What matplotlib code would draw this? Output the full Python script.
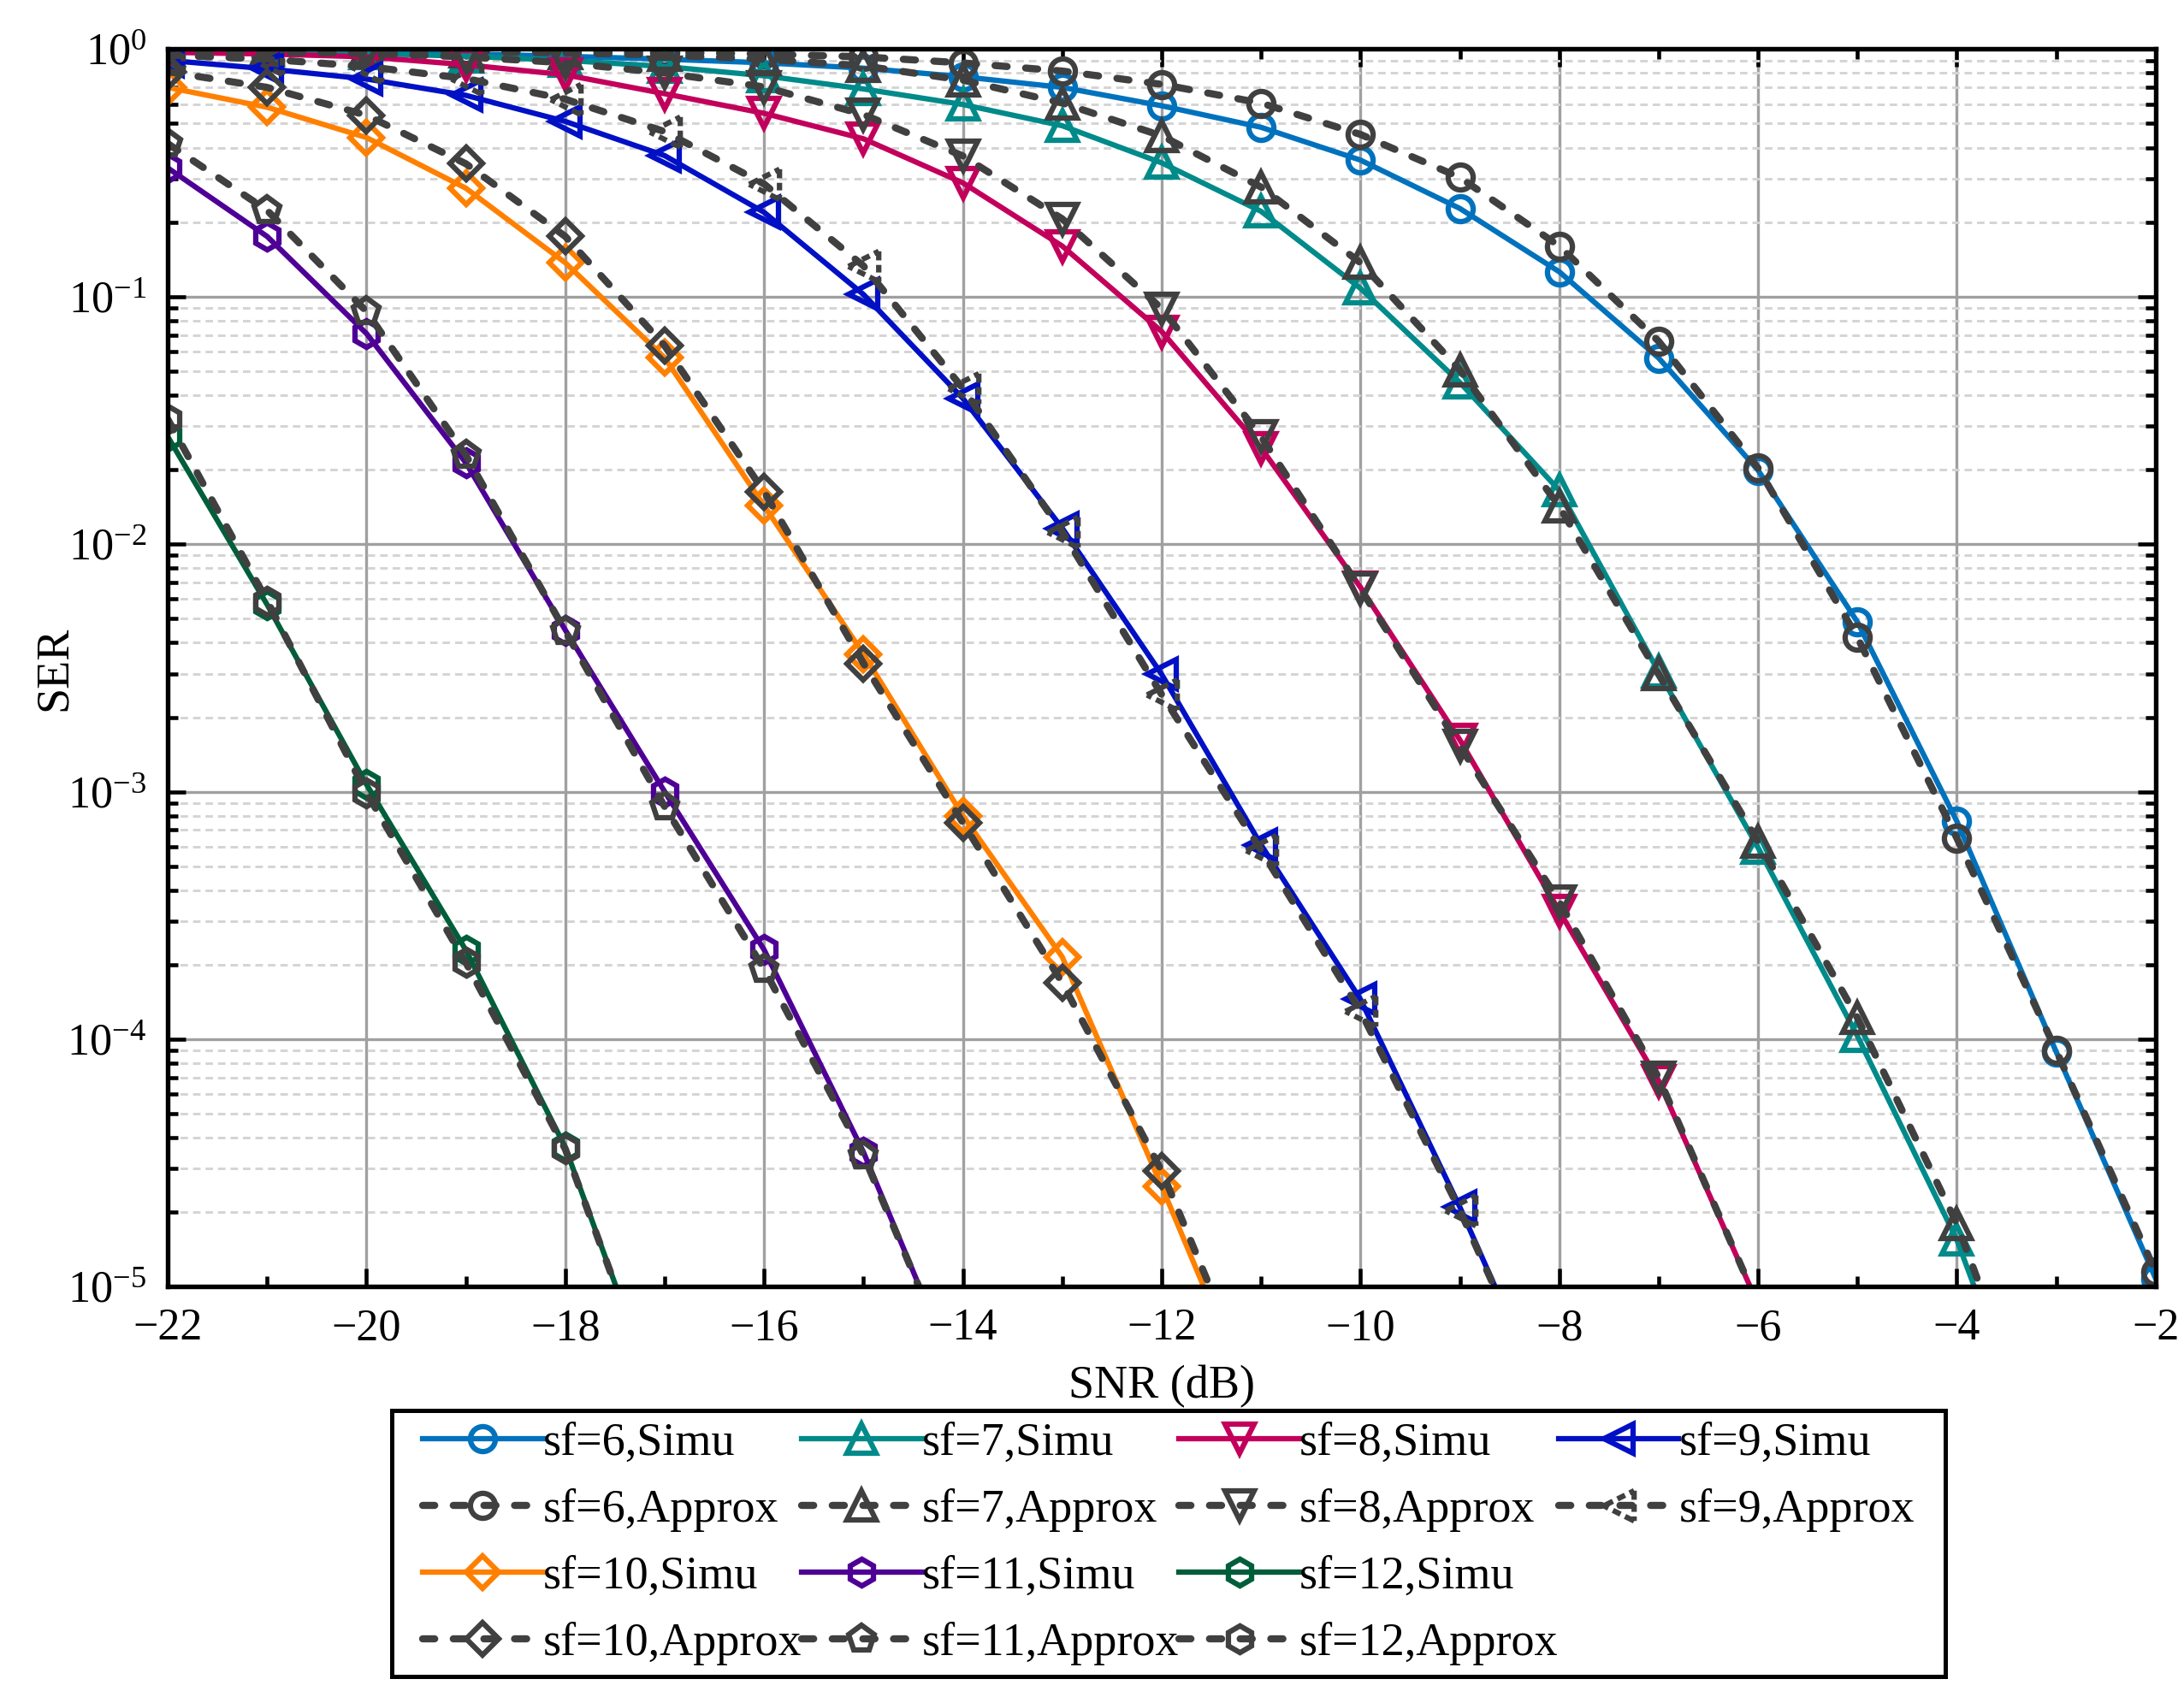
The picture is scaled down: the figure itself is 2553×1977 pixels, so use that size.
import numpy as np
import matplotlib
matplotlib.use("Agg")
import matplotlib.pyplot as plt
from matplotlib.lines import Line2D
from matplotlib.path import Path
from matplotlib.ticker import LogLocator, MultipleLocator, NullFormatter

plt.rcParams['font.family'] = ['Liberation Serif', 'DejaVu Serif']
plt.rcParams['mathtext.fontset'] = 'stix'
plt.rcParams['axes.unicode_minus'] = True

# SNR in dB
snr = [-22, -21, -20, -19, -18, -17, -16, -15, -14, -13, -12,
       -11, -10, -9, -8, -7, -6, -5, -4, -3, -2]

# SER values, each list starts at -22 dB
sf6_simu = [0.985, 0.98, 0.97, 0.955, 0.935, 0.91, 0.88, 0.837, 0.773, 0.70, 0.59,
            0.483, 0.356, 0.227, 0.126, 0.0565, 0.0199, 4.85e-3, 7.6e-4, 8.9e-5, 1.08e-5]
sf6_approx = [0.998, 0.996, 0.993, 0.99, 0.98, 0.97, 0.955, 0.93, 0.879, 0.815, 0.72,
              0.605, 0.452, 0.303, 0.160, 0.066, 0.0203, 4.2e-3, 6.5e-4, 9.0e-5, 1.15e-5]
sf7_simu = [0.985, 0.975, 0.96, 0.935, 0.90, 0.85, 0.78, 0.69, 0.597, 0.49, 0.347,
            0.221, 0.108, 0.045, 0.0165, 3.05e-3, 5.95e-4, 1.03e-4, 1.55e-5, 1.3e-6]
sf7_approx = [0.996, 0.993, 0.988, 0.98, 0.965, 0.945, 0.91, 0.855, 0.749, 0.605, 0.446,
              0.277, 0.137, 0.0505, 0.0142, 2.98e-3, 6.3e-4, 1.22e-4, 1.8e-5, 1.5e-6]
sf8_simu = [0.97, 0.955, 0.93, 0.864, 0.787, 0.66, 0.55, 0.434, 0.288, 0.160, 0.0723,
            0.0245, 6.7e-3, 1.62e-3, 3.3e-4, 6.8e-5, 8.5e-6]
sf8_approx = [0.985, 0.975, 0.96, 0.93, 0.88, 0.80, 0.703, 0.544, 0.37, 0.206, 0.0895,
              0.0272, 6.6e-3, 1.53e-3, 3.6e-4, 7.0e-5, 8.5e-6]
sf9_simu = [0.90, 0.832, 0.757, 0.65, 0.51, 0.371, 0.219, 0.102, 0.0388, 0.0116, 2.98e-3,
            6.1e-4, 1.45e-4, 2.1e-5, 2.6e-6]
sf9_approx = [0.945, 0.91, 0.85, 0.76, 0.627, 0.464, 0.285, 0.133, 0.0426, 0.0112, 2.47e-3,
              5.8e-4, 1.3e-4, 2.04e-5, 2.6e-6]
sf10_simu = [0.70, 0.582, 0.439, 0.274, 0.137, 0.0566, 0.0143, 3.6e-3, 8.0e-4, 2.15e-4,
             2.55e-5, 2.8e-6]
sf10_approx = [0.81, 0.70, 0.54, 0.344, 0.175, 0.0633, 0.0163, 3.3e-3, 7.5e-4, 1.69e-4,
               2.94e-5, 3.2e-6]
sf11_simu = [0.331, 0.175, 0.0709, 0.0213, 4.5e-3, 1.0e-3, 2.3e-4, 3.5e-5, 3.8e-6]
sf11_approx = [0.415, 0.223, 0.0871, 0.0229, 4.45e-3, 8.7e-4, 1.92e-4, 3.4e-5, 3.8e-6]
sf12_simu = [0.0272, 5.7e-3, 1.07e-3, 2.29e-4, 3.66e-5, 2.9e-6]
sf12_approx = [0.032, 5.9e-3, 9.9e-4, 2.04e-4, 3.6e-5, 2.9e-6]

sfs = [6, 7, 8, 9, 10, 11, 12]
simu = [sf6_simu, sf7_simu, sf8_simu, sf9_simu, sf10_simu, sf11_simu, sf12_simu]
approx = [sf6_approx, sf7_approx, sf8_approx, sf9_approx, sf10_approx, sf11_approx, sf12_approx]
colors = ['#0072BD', '#008A8A', '#C2005C', '#0010C4', '#FF8000', '#4E0096', '#005E3A']


def dashed_triangle():
    # left-pointing triangle drawn with broken edges
    corners = [(-1.0, 0.0), (1.0, 1.0), (1.0, -1.0), (-1.0, 0.0)]
    verts, codes = [], []
    for (x0, y0), (x1, y1) in zip(corners[:-1], corners[1:]):
        for t0, t1 in [(0.0, 0.3), (0.45, 0.7), (0.85, 1.0)]:
            verts += [(x0 + (x1 - x0) * t0, y0 + (y1 - y0) * t0),
                      (x0 + (x1 - x0) * t1, y0 + (y1 - y0) * t1)]
            codes += [Path.MOVETO, Path.LINETO]
    return Path(verts, codes)


def wide_box(x0, y0, width, height, mutation_size):
    # legend frame with more room left/right than top/bottom
    px = 0.42 * mutation_size
    return Path([(x0 - px, y0), (x0 + width + px, y0), (x0 + width + px, y0 + height),
                 (x0 - px, y0 + height), (x0 - px, y0)], closed=True)


simu_markers = ['o', '^', 'v', '<', 'D', 'h', 'h']
approx_markers = ['o', '^', 'v', dashed_triangle(), 'D', 'p', 'h']
marker_size = {'o': 7.0, '^': 8.0, 'v': 8.0, '<': 8.0, 'D': 6.3, 'h': 7.5, 'p': 7.5}
gray = '#404040'

fig = plt.figure(figsize=(2553 / 300, 1977 / 300), dpi=300)
ax = fig.add_axes([0.0768, 0.239, 0.9102, 0.732])

handles = {}
for sf, s, a, c, ms, ma in zip(sfs, simu, approx, colors, simu_markers, approx_markers):
    h1, = ax.semilogy(snr[:len(s)], s, color=c, lw=1.5, marker=ms, ms=marker_size[ms],
                      mfc='none', mec=c, mew=1.5, label='sf=%d,Simu' % sf)
    msz = marker_size.get(ma, 8.5) if isinstance(ma, str) else 8.5
    h2, = ax.semilogy(snr[:len(a)], a, color=gray, lw=2.0, ls=(0, (1.7, 2.6)),
                      dash_capstyle='round', marker=ma, ms=msz, mfc='none',
                      mec=gray, mew=1.5, label='sf=%d,Approx' % sf)
    handles[sf] = (h1, h2)

ax.set_xlim(-22, -2)
ax.set_ylim(1e-5, 1)
ax.xaxis.set_major_locator(MultipleLocator(2))
ax.xaxis.set_minor_locator(MultipleLocator(1))
ax.yaxis.set_major_locator(LogLocator(base=10, numticks=10))
ax.yaxis.set_minor_locator(LogLocator(base=10, subs=np.arange(2, 10), numticks=10))
ax.yaxis.set_minor_formatter(NullFormatter())

ax.grid(True, which='major', color='#a0a0a0', lw=0.8, ls='-')
ax.grid(True, which='minor', axis='y', color='#d4d4d4', lw=0.7, ls=(0, (3, 2)))
ax.set_axisbelow(True)
ax.tick_params(which='both', direction='in', top=True, right=True, labelsize=12.5, width=1.1)
ax.tick_params(which='major', length=5, pad=6)
ax.tick_params(which='minor', length=2.8)
for sp in ax.spines.values():
    sp.set_linewidth(1.3)

ax.set_xlabel('SNR (dB)', fontsize=13, labelpad=4.5)
ax.set_ylabel('SER', fontsize=13, labelpad=-2.5)

blank = Line2D([], [], ls='none', marker='none')
order = [(6, 0), (6, 1), (10, 0), (10, 1),
         (7, 0), (7, 1), (11, 0), (11, 1),
         (8, 0), (8, 1), (12, 0), (12, 1),
         (9, 0), (9, 1), None, None]
leg_h, leg_l = [], []
for item in order:
    if item is None:
        leg_h.append(blank)
        leg_l.append('')
    else:
        h = handles[item[0]][item[1]]
        leg_h.append(h)
        leg_l.append(h.get_label())

leg = fig.legend(leg_h, leg_l, loc='upper center', bbox_to_anchor=(0.535, 0.166),
                 ncol=4, fontsize=13, handlelength=2.6, handletextpad=0.0,
                 columnspacing=0.0, labelspacing=0.5, borderpad=0.25,
                 borderaxespad=0.0, fancybox=False, framealpha=1, edgecolor='black')
leg.get_frame().set_linewidth(1.2)
leg.get_frame().set_boxstyle(wide_box)

fig.savefig('out.png', dpi=300)
